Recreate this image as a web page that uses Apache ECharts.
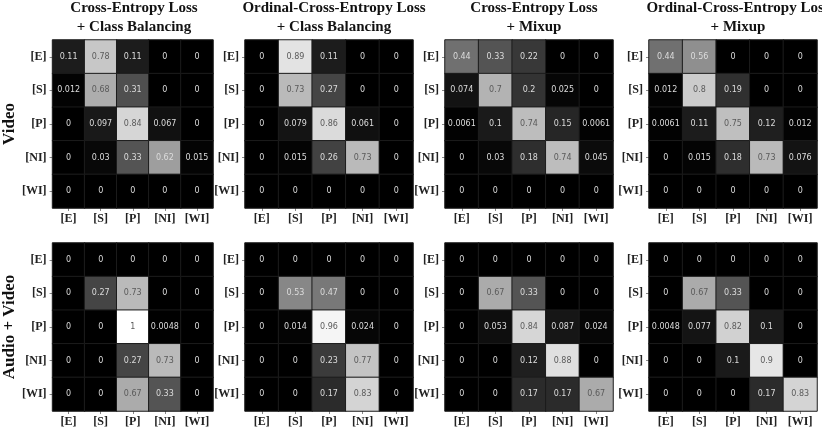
<!DOCTYPE html>
<html>
<head>
<meta charset="utf-8">
<script src="https://cdn.jsdelivr.net/npm/echarts@6/dist/echarts.min.js"></script>
<style>
  html, body { margin: 0; padding: 0; background: #fff; }
  #main { width: 822px; height: 428px; }
</style>
</head>
<body>
<div id="main"></div>
<script>
// class labels (rows = true, cols = predicted)
const classes = ['[E]', '[S]', '[P]', '[NI]', '[WI]'];

const colTitles = [
    'Cross-Entropy Loss\n+ Class Balancing',
    'Ordinal-Cross-Entropy Loss\n+ Class Balancing',
    'Cross-Entropy Loss\n+ Mixup',
    'Ordinal-Cross-Entropy Loss\n+ Mixup'
];
const rowTitles = ['Video', 'Audio + Video'];

// Video
const videoCeCb = [
    [0.11, 0.78, 0.11, 0, 0],
    [0.012, 0.68, 0.31, 0, 0],
    [0, 0.097, 0.84, 0.067, 0],
    [0, 0.03, 0.33, 0.62, 0.015],
    [0, 0, 0, 0, 0]
];
const videoOceCb = [
    [0, 0.89, 0.11, 0, 0],
    [0, 0.73, 0.27, 0, 0],
    [0, 0.079, 0.86, 0.061, 0],
    [0, 0.015, 0.26, 0.73, 0],
    [0, 0, 0, 0, 0]
];
const videoCeMix = [
    [0.44, 0.33, 0.22, 0, 0],
    [0.074, 0.7, 0.2, 0.025, 0],
    [0.0061, 0.1, 0.74, 0.15, 0.0061],
    [0, 0.03, 0.18, 0.74, 0.045],
    [0, 0, 0, 0, 0]
];
const videoOceMix = [
    [0.44, 0.56, 0, 0, 0],
    [0.012, 0.8, 0.19, 0, 0],
    [0.0061, 0.11, 0.75, 0.12, 0.012],
    [0, 0.015, 0.18, 0.73, 0.076],
    [0, 0, 0, 0, 0]
];

// Audio + Video
const avCeCb = [
    [0, 0, 0, 0, 0],
    [0, 0.27, 0.73, 0, 0],
    [0, 0, 1, 0.0048, 0],
    [0, 0, 0.27, 0.73, 0],
    [0, 0, 0.67, 0.33, 0]
];
const avOceCb = [
    [0, 0, 0, 0, 0],
    [0, 0.53, 0.47, 0, 0],
    [0, 0.014, 0.96, 0.024, 0],
    [0, 0, 0.23, 0.77, 0],
    [0, 0, 0.17, 0.83, 0]
];
const avCeMix = [
    [0, 0, 0, 0, 0],
    [0, 0.67, 0.33, 0, 0],
    [0, 0.053, 0.84, 0.087, 0.024],
    [0, 0, 0.12, 0.88, 0],
    [0, 0, 0.17, 0.17, 0.67]
];
const avOceMix = [
    [0, 0, 0, 0, 0],
    [0, 0.67, 0.33, 0, 0],
    [0.0048, 0.077, 0.82, 0.1, 0],
    [0, 0, 0.1, 0.9, 0],
    [0, 0, 0, 0.17, 0.83]
];

const matrices = [
    videoCeCb, videoOceCb, videoCeMix, videoOceMix,
    avCeCb, avOceCb, avCeMix, avOceMix
];

const serif = '"Liberation Serif", "Times New Roman", serif';
const panelLeft = [45, 245, 445, 649];
const panelTop = [40, 243];
const size = 168;

const grids = [], xAxes = [], yAxes = [], series = [], titles = [];

matrices.forEach((m, i) => {
    const col = i % 4, row = Math.floor(i / 4);
    grids.push({
        left: panelLeft[col], top: panelTop[row],
        width: size, height: size
    });
    xAxes.push({
        type: 'category', gridIndex: i, data: classes,
        axisLine: { show: false },
        axisTick: { show: true, length: 3, alignWithLabel: true, lineStyle: { color: '#888' } },
        axisLabel: { fontFamily: serif, fontWeight: 'bold', fontSize: 12, color: '#222', margin: 5 },
        splitArea: { show: false }
    });
    yAxes.push({
        type: 'category', gridIndex: i, data: classes, inverse: true,
        axisLine: { show: false },
        axisTick: { show: true, length: 3, alignWithLabel: true, lineStyle: { color: '#888' } },
        axisLabel: { fontFamily: serif, fontWeight: 'bold', fontSize: 12, color: '#222', margin: 6 },
        name: col === 0 ? rowTitles[row] : '',
        nameLocation: 'middle',
        nameRotate: 90,
        nameGap: 22,
        nameTextStyle: { fontFamily: serif, fontWeight: 'bold', fontSize: 17, color: '#111' }
    });
    // one cell per [col, row, value]; darker annotation text on light cells
    const data = [];
    m.forEach((r, yi) => r.forEach((v, xi) => data.push({
        value: [xi, yi, v],
        label: { color: v > 0.65 ? '#5a5a5a' : '#dcdcdc' }
    })));
    series.push({
        type: 'heatmap', xAxisIndex: i, yAxisIndex: i, data: data,
        itemStyle: { borderColor: '#1c1c1c', borderWidth: 1 },
        label: {
            show: true, fontSize: 8,
            fontFamily: '"DejaVu Sans", sans-serif',
            formatter: p => String(p.value[2])
        },
        emphasis: { disabled: true }
    });
});

colTitles.forEach((t, c) => {
    titles.push({
        text: t,
        left: panelLeft[c] + size / 2,
        textAlign: 'center',
        top: -6,
        textStyle: { fontFamily: serif, fontWeight: 'bold', fontSize: 15, lineHeight: 19, color: '#111' }
    });
});

const chart = echarts.init(document.getElementById('main'));
chart.setOption({
    backgroundColor: '#fff',
    animation: false,
    title: titles,
    grid: grids,
    xAxis: xAxes,
    yAxis: yAxes,
    visualMap: {
        show: false, min: 0, max: 1,
        seriesIndex: series.map((s, i) => i),
        inRange: { color: ['#000000', '#ffffff'] }
    },
    series: series
});
</script>
</body>
</html>
